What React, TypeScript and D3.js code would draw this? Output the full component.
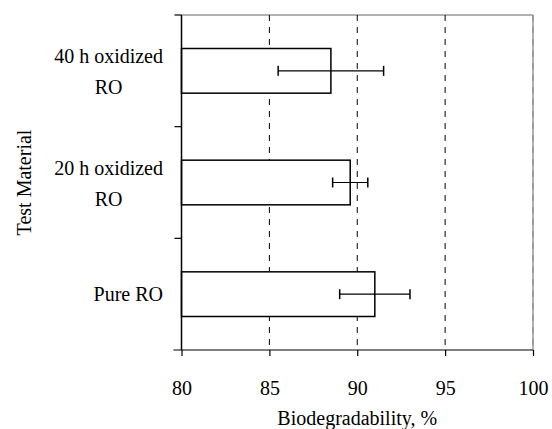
import React, { useEffect, useRef } from 'react';
import * as d3 from 'd3';

// data
const categories = ['40 h oxidized|RO', '20 h oxidized|RO', 'Pure RO'];
const values = [88.5, 89.6, 91.0];
const errors = [3.0, 1.0, 2.0];
const xTicks = [80, 85, 90, 95, 100];

const W = 552;
const H = 429;

const App = () => {
  const ref = useRef<SVGSVGElement | null>(null);

  useEffect(() => {
    const svg = d3.select(ref.current);
    svg.selectAll('*').remove();

    const left = 181.5, right = 533, top = 15, bottom = 350;
    const font = 'Liberation Serif, serif';

    const x = d3.scaleLinear().domain([80, 100]).range([left, right]);
    const y = d3.scaleBand()
      .domain(categories)
      .range([top, bottom])
      .paddingInner(0.6)
      .paddingOuter(0.3);
    const step = y.step();

    // plot border (top + right) gray
    svg.append('line')
      .attr('x1', left).attr('x2', right).attr('y1', top).attr('y2', top)
      .attr('stroke', '#999').attr('stroke-width', 1.5);
    svg.append('line')
      .attr('x1', right).attr('x2', right).attr('y1', top).attr('y2', bottom)
      .attr('stroke', '#999').attr('stroke-width', 1.5);

    // dashed grid
    svg.selectAll('line.grid')
      .data(xTicks.slice(1))
      .enter().append('line')
      .attr('class', 'grid')
      .attr('x1', d => x(d)).attr('x2', d => x(d))
      .attr('y1', top).attr('y2', bottom)
      .attr('stroke', d => (d === 100 ? '#888' : '#000'))
      .attr('stroke-width', 1)
      .attr('stroke-dasharray', '6,6');

    // bars
    svg.selectAll('rect.bar')
      .data(categories)
      .enter().append('rect')
      .attr('class', 'bar')
      .attr('x', x(80))
      .attr('y', d => y(d)!)
      .attr('width', (d, i) => x(values[i]) - x(80))
      .attr('height', y.bandwidth())
      .attr('fill', '#fff')
      .attr('stroke', '#000')
      .attr('stroke-width', 1.5);

    // error bars
    const eb = svg.selectAll('g.err')
      .data(categories)
      .enter().append('g')
      .attr('class', 'err')
      .attr('transform', d => `translate(0, ${y(d)! + y.bandwidth() / 2})`);
    eb.append('line')
      .attr('x1', (d, i) => x(values[i] - errors[i]))
      .attr('x2', (d, i) => x(values[i] + errors[i]))
      .attr('stroke', '#000').attr('stroke-width', 1.2);
    eb.append('line')
      .attr('x1', (d, i) => x(values[i] - errors[i]))
      .attr('x2', (d, i) => x(values[i] - errors[i]))
      .attr('y1', -5).attr('y2', 5)
      .attr('stroke', '#000').attr('stroke-width', 1.5);
    eb.append('line')
      .attr('x1', (d, i) => x(values[i] + errors[i]))
      .attr('x2', (d, i) => x(values[i] + errors[i]))
      .attr('y1', -5).attr('y2', 5)
      .attr('stroke', '#000').attr('stroke-width', 1.5);

    // x axis
    const xAxis = svg.append('g')
      .attr('transform', `translate(0, ${bottom})`)
      .call(d3.axisBottom(x).tickValues(xTicks).tickSize(6).tickSizeOuter(0));
    xAxis.attr('font-family', font).attr('font-size', 20);
    xAxis.select('.domain').remove();
    xAxis.append('line')
      .attr('x1', left - 8).attr('x2', right).attr('stroke', '#000').attr('stroke-width', 1.2);
    xAxis.selectAll('.tick line').attr('stroke-width', 1.2);
    xAxis.selectAll('.tick text')
      .attr('y', 45)
      .attr('dy', 0)
      .attr('font-family', font)
      .attr('font-size', 20)
      .attr('fill', '#000');

    // y axis line + ticks at band boundaries
    svg.append('line')
      .attr('x1', left).attr('x2', left).attr('y1', top).attr('y2', bottom)
      .attr('stroke', '#000').attr('stroke-width', 1.5);
    const bounds = d3.range(categories.length + 1).map(i => top + i * step);
    svg.selectAll('line.ytick')
      .data(bounds.slice(0, -1))
      .enter().append('line')
      .attr('class', 'ytick')
      .attr('x1', left - 7).attr('x2', left)
      .attr('y1', d => d).attr('y2', d => d)
      .attr('stroke', '#000').attr('stroke-width', 1.2);

    // category labels: block right-aligned, lines centred inside
    const labelRight = 163;
    categories.forEach(c => {
      const lines = c.split('|');
      const cy = y(c)! + y.bandwidth() / 2;
      const g = svg.append('g');
      const texts = lines.map((ln, j) =>
        g.append('text')
          .attr('y', cy + (lines.length === 1 ? 7 : -7.5 + j * 30.5))
          .attr('font-family', font)
          .attr('font-size', 20)
          .attr('text-anchor', 'middle')
          .text(ln)
      );
      const widths = texts.map(t => (t.node() as SVGTextElement).getComputedTextLength());
      const maxW = d3.max(widths) || 0;
      texts.forEach(t => t.attr('x', labelRight - maxW / 2));
    });

    // axis titles
    svg.append('text')
      .attr('x', (left + right) / 2)
      .attr('y', 425)
      .attr('text-anchor', 'middle')
      .attr('font-family', font)
      .attr('font-size', 20)
      .text('Biodegradability, %');

    svg.append('text')
      .attr('transform', `translate(31, ${(top + bottom) / 2}) rotate(-90)`)
      .attr('text-anchor', 'middle')
      .attr('font-family', font)
      .attr('font-size', 20)
      .text('Test Material');
  }, []);

  return (
    <svg
      ref={ref}
      width={W}
      height={H}
      style={{ position: 'absolute', left: 0, top: 0, background: '#fff' }}
    />
  );
};

export default App;
